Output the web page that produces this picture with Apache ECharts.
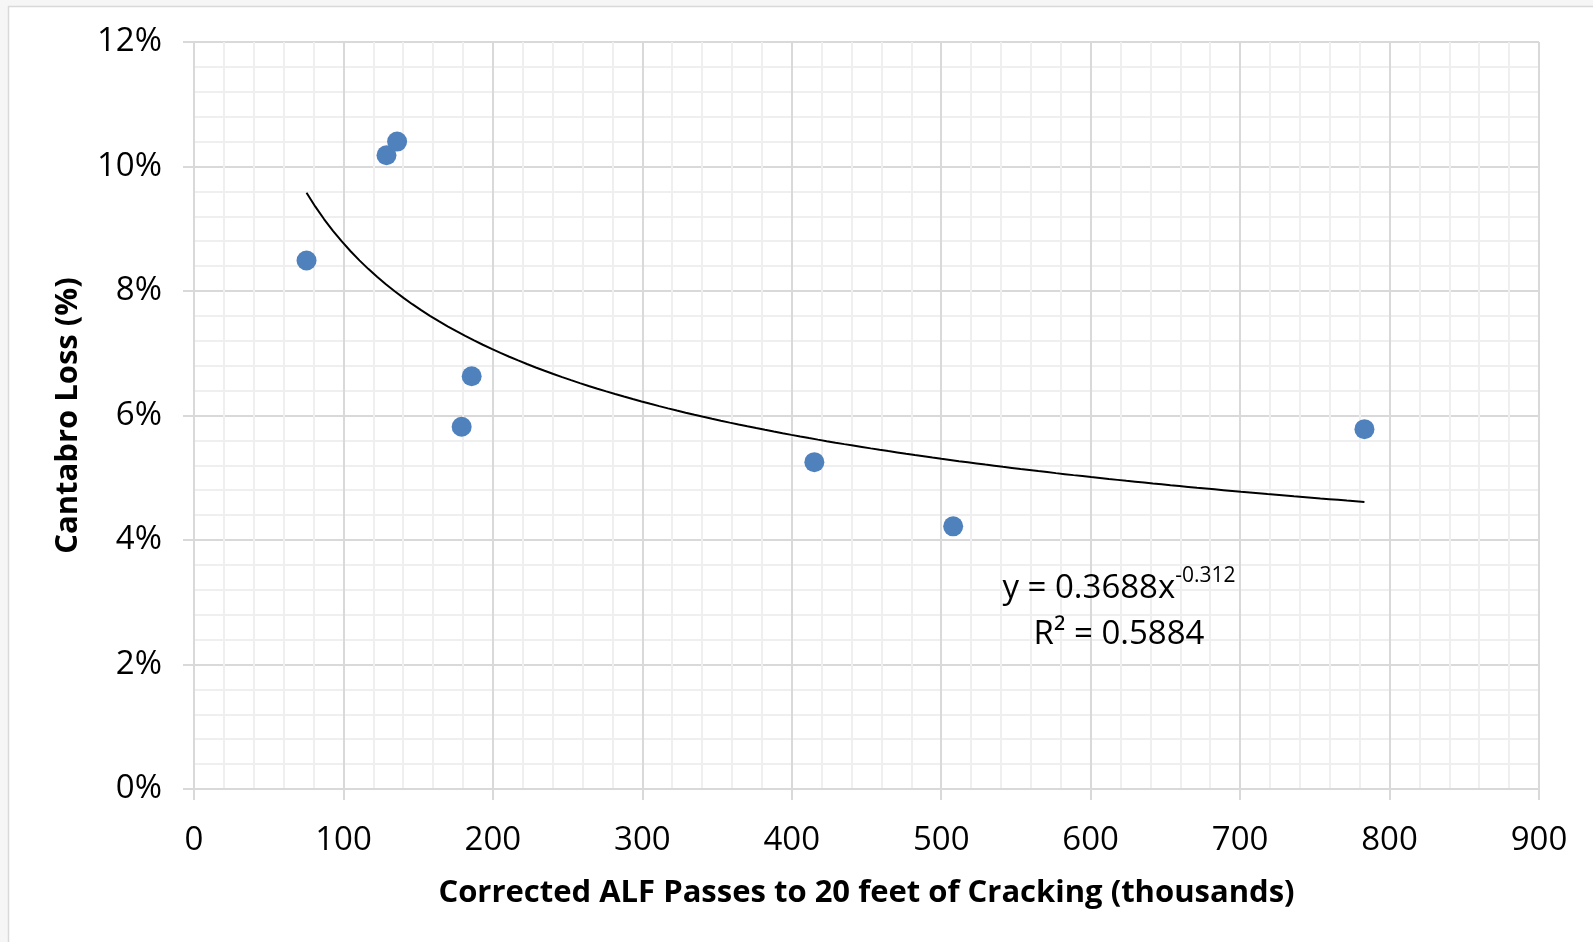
<!DOCTYPE html>
<html>
<head>
<meta charset="utf-8">
<script src="https://cdn.jsdelivr.net/npm/echarts@6/dist/echarts.min.js"></script>
<style>
  html, body { margin: 0; padding: 0; background: #f6f6f6; }
  #chart { width: 1593px; height: 942px; }
</style>
</head>
<body>
<div id="chart"></div>
<script>
// Corrected ALF passes to 20 ft of cracking (thousands)
const passes = [75.3, 128.8, 135.9, 185.8, 179.1, 415.1, 508.0, 783.2];
// Cantabro loss (%)
const cantabroLoss = [8.49, 10.18, 10.40, 6.63, 5.82, 5.25, 4.22, 5.78];

// Power trendline y = a * x^b (fraction), R²
const trendA = 0.3688;
const trendB = -0.312;
const trendR2 = 0.5884;

const xTicks = { min: 0, max: 900, interval: 100 };
const yTicks = { min: 0, max: 12, interval: 2 };

const xTitle = 'Corrected ALF Passes to 20 feet of Cracking (thousands)';
const yTitle = 'Cantabro Loss (%)';

// Sample the fitted curve across the observed x range
const xLo = Math.min(...passes), xHi = Math.max(...passes);
const trendPts = [];
for (let i = 0; i <= 120; i++) {
  const x = xLo + (xHi - xLo) * i / 120;
  trendPts.push([x, trendA * Math.pow(x, trendB) * 100]);
}

const FONT = '"Open Sans", "Liberation Sans", sans-serif';
const gridMajor = '#d9d9d9';
const gridMinor = '#efefef';

const chart = echarts.init(document.getElementById('chart'));
chart.setOption({
  animation: false,
  backgroundColor: 'transparent',
  graphic: [
    {
      type: 'rect',
      z: -10,
      shape: { x: 8.5, y: 6.5, width: 1600, height: 950 },
      style: { fill: '#ffffff', stroke: '#d9d9d9', lineWidth: 1.5 }
    },
    {
      type: 'text',
      z: 50,
      x: 1119,
      y: 612,
      style: {
        text: '{m|y = ' + trendA + 'x}{s|' + trendB + '}\n{m|R² = ' + trendR2 + '}',
        align: 'center',
        verticalAlign: 'middle',
        fill: '#000',
        rich: {
          m: { fontSize: 33, fontFamily: FONT, lineHeight: 46, fill: '#000' },
          s: { fontSize: 21, fontFamily: FONT, lineHeight: 26, verticalAlign: 'top', fill: '#000' }
        }
      }
    }
  ],
  grid: { left: 194, right: 54, top: 42, bottom: 153, containLabel: false },
  xAxis: {
    type: 'value',
    min: xTicks.min, max: xTicks.max, interval: xTicks.interval,
    name: xTitle,
    nameLocation: 'middle',
    nameGap: 89,
    nameTextStyle: { fontFamily: FONT, fontWeight: 'bold', fontSize: 31, color: '#000' },
    axisLine: { show: true, lineStyle: { color: gridMajor, width: 2 } },
    axisTick: { show: true, length: 11, lineStyle: { color: gridMajor, width: 2 } },
    axisLabel: { fontFamily: FONT, fontSize: 33, color: '#000', margin: 35 },
    splitLine: { show: true, lineStyle: { color: gridMajor, width: 2 } },
    minorTick: { show: false, splitNumber: 5 },
    minorSplitLine: { show: true, lineStyle: { color: gridMinor, width: 2 } }
  },
  yAxis: {
    type: 'value',
    min: yTicks.min, max: yTicks.max, interval: yTicks.interval,
    name: yTitle,
    nameLocation: 'middle',
    nameGap: 110,
    nameRotate: 90,
    nameTextStyle: { fontFamily: FONT, fontWeight: 'bold', fontSize: 31, color: '#000' },
    axisLine: { show: true, lineStyle: { color: gridMajor, width: 2 } },
    axisTick: { show: true, length: 11, lineStyle: { color: gridMajor, width: 2 } },
    axisLabel: { fontFamily: FONT, fontSize: 33, color: '#000', margin: 32, formatter: '{value}%' },
    splitLine: { show: true, lineStyle: { color: gridMajor, width: 2 } },
    minorTick: { show: false, splitNumber: 5 },
    minorSplitLine: { show: true, lineStyle: { color: gridMinor, width: 2 } }
  },
  series: [
    {
      name: 'Power trend',
      type: 'line',
      data: trendPts,
      showSymbol: false,
      smooth: false,
      lineStyle: { color: '#000', width: 2 },
      z: 2,
      silent: true
    },
    {
      name: 'Cantabro Loss',
      type: 'scatter',
      data: passes.map((x, i) => [x, cantabroLoss[i]]),
      symbolSize: 20,
      itemStyle: { color: '#4f81bd', opacity: 1 },
      z: 3
    }
  ]
});
</script>
</body>
</html>
